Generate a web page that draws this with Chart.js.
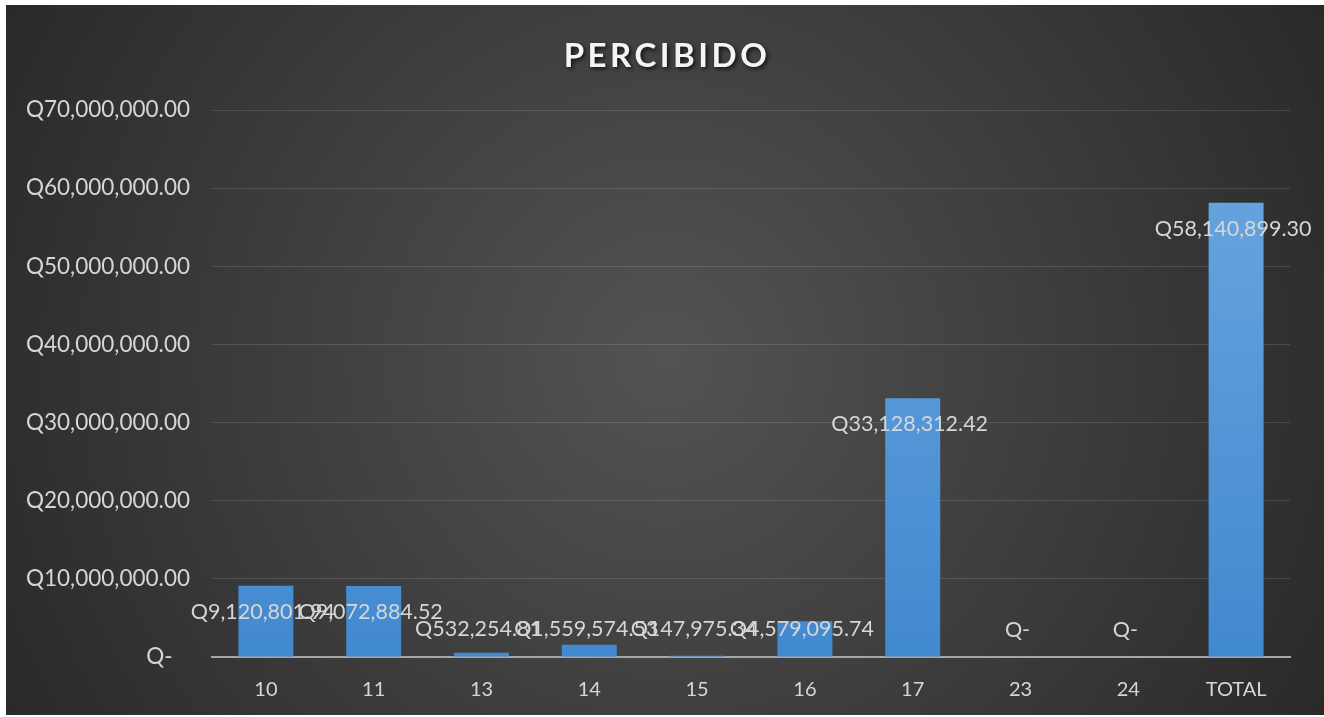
<!DOCTYPE html>
<html>
<head>
<meta charset="utf-8">
<script src="https://cdn.jsdelivr.net/npm/chart.js@4/dist/chart.umd.min.js"></script>
<style>
  html, body { margin: 0; padding: 0; background: #ffffff; }
  #cadre { position: absolute; left: 6px; top: 5px; width: 1318px; height: 710px; }
</style>
</head>
<body>
<div id="cadre"><canvas id="graphiquePercibido"></canvas></div>
<script>
// Données
const categories = ['10', '11', '13', '14', '15', '16', '17', '23', '24', 'TOTAL'];
const percibido  = [9120801.94, 9072884.52, 532254.81, 1559574.53, 147975.34,
                    4579095.74, 33128312.42, 0, 0, 58140899.30];
const titre = 'PERCIBIDO';
const yMax  = 70000000;
const yPas  = 10000000;

const POLICE = 'Lato, "Open Sans", sans-serif';
const GRIS_TEXTE = '#d6d6d6';

function formatQ(v) {
    if (v === 0) return 'Q-';
    return 'Q' + v.toLocaleString('en-US', { minimumFractionDigits: 2, maximumFractionDigits: 2 });
}

// Fond sombre en dégradé radial (style Excel)
const fondDegrade = {
    id: 'fondDegrade',
    beforeDraw(chart) {
        const { ctx, width, height } = chart;
        const g = ctx.createRadialGradient(width / 2, height / 2, 0, width / 2, height / 2, width * 0.6);
        g.addColorStop(0, '#535353');
        g.addColorStop(1, '#272727');
        ctx.save();
        ctx.fillStyle = g;
        ctx.fillRect(0, 0, width, height);
        ctx.restore();
    }
};

// Titre espacé avec ombre portée
const titreOmbre = {
    id: 'titreOmbre',
    afterDraw(chart) {
        const { ctx, width } = chart;
        ctx.save();
        ctx.font = 'bold 33px ' + POLICE;
        ctx.letterSpacing = '3.5px';
        ctx.fillStyle = '#f4f4f4';
        ctx.textAlign = 'center';
        ctx.textBaseline = 'middle';
        ctx.shadowColor = 'rgba(0,0,0,0.75)';
        ctx.shadowBlur = 4;
        ctx.shadowOffsetX = 2;
        ctx.shadowOffsetY = 2;
        ctx.fillText(titre, width / 2 + 2, 51);
        ctx.restore();
    }
};

// Étiquettes de valeurs : "inside end", remontées si la barre est trop courte
const etiquettes = {
    id: 'etiquettes',
    afterDatasetsDraw(chart) {
        const { ctx } = chart;
        const meta = chart.getDatasetMeta(0);
        ctx.save();
        ctx.font = '21.5px ' + POLICE;
        ctx.fillStyle = GRIS_TEXTE;
        ctx.textAlign = 'center';
        ctx.textBaseline = 'middle';
        meta.data.forEach((barre, i) => {
            const y = Math.min(barre.y + 26, barre.base - 27);
            ctx.fillText(formatQ(percibido[i]), barre.x - 3, y);
        });
        ctx.restore();
    }
};

const ctx = document.getElementById('graphiquePercibido');

const monGraphique = new Chart(ctx, {
    type: 'bar',
    data: {
        labels: categories,
        datasets: [{
            label: titre,
            data: percibido,
            backgroundColor: (c) => {
                const area = c.chart.chartArea;
                if (!area) return '#5b9bd5';
                const g = c.chart.ctx.createLinearGradient(0, area.top, 0, area.bottom);
                g.addColorStop(0, '#6ca8e0');
                g.addColorStop(1, '#4189d0');
                return g;
            },
            borderWidth: 0,
            barPercentage: 0.51,
            categoryPercentage: 1
        }]
    },
    options: {
        responsive: true,
        maintainAspectRatio: false,
        animation: false,
        layout: { padding: { top: 105, right: 34, bottom: 0, left: 0 } },
        plugins: {
            legend: { display: false },
            tooltip: { enabled: false },
            title: { display: false }
        },
        scales: {
            x: {
                grid: { display: false },
                border: { display: true, color: '#a6a6a6', width: 2 },
                ticks: { color: GRIS_TEXTE, font: { family: POLICE, size: 20 }, padding: 13 },
                afterFit(scale) { scale.height = 58; }
            },
            y: {
                min: 0,
                max: yMax,
                grid: { color: 'rgba(255,255,255,0.13)', lineWidth: 1, drawTicks: false },
                border: { display: false },
                ticks: {
                    stepSize: yPas,
                    color: GRIS_TEXTE,
                    font: { family: POLICE, size: 22.5 },
                    padding: 22,
                    callback: (v) => v === 0 ? 'Q-   ' : formatQ(v)
                },
                afterFit(scale) { scale.width = 206; }
            }
        }
    },
    plugins: [fondDegrade, etiquettes, titreOmbre]
});
</script>
</body>
</html>
